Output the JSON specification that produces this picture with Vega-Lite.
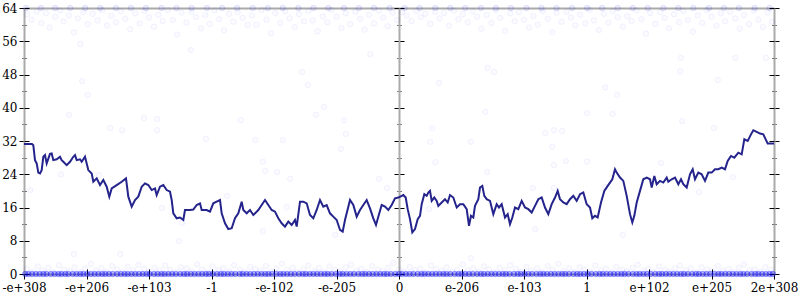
{
  "$schema": "https://vega.github.io/schema/vega-lite/v6.json",
  "width": 750,
  "height": 266,
  "autosize": "none",
  "padding": {"left": 24, "top": 8, "right": 26, "bottom": 26},
  "background": "white",
  "config": {
    "view": {"stroke": null},
    "axis": {"labelFont": "DejaVu Serif, Liberation Serif, serif", "labelFontSize": 12, "labelColor": "#000", "title": null, "grid": false, "labelFlush": false, "labelOverlap": false}
  },
  "datasets": {
    "line": [
      {"x":0,"y":31.3},{"x":0.128,"y":31.3},{"x":0.149,"y":31},{"x":0.176,"y":27.4},{"x":0.203,"y":26.6},{"x":0.229,"y":24.4},{"x":0.256,"y":24.2},{"x":0.283,"y":25},{"x":0.309,"y":28.2},{"x":0.336,"y":28.6},{"x":0.363,"y":26.6},{"x":0.416,"y":28.9},{"x":0.443,"y":29},{"x":0.469,"y":27.4},{"x":0.523,"y":27.6},{"x":0.576,"y":28.2},{"x":0.603,"y":27.4},{"x":0.629,"y":27},{"x":0.683,"y":26.2},{"x":0.736,"y":27},{"x":0.789,"y":28.2},{"x":0.816,"y":28.6},{"x":0.843,"y":27.4},{"x":0.896,"y":27.6},{"x":0.923,"y":27},{"x":0.976,"y":28.2},{"x":1.003,"y":26.6},{"x":1.029,"y":25},{"x":1.083,"y":24.2},{"x":1.109,"y":22.2},{"x":1.163,"y":23},{"x":1.216,"y":21.4},{"x":1.269,"y":22.6},{"x":1.323,"y":21},{"x":1.365,"y":18.6},{"x":1.403,"y":20.6},{"x":1.483,"y":21.4},{"x":1.563,"y":22.2},{"x":1.632,"y":23},{"x":1.669,"y":18.6},{"x":1.723,"y":16.2},{"x":1.776,"y":17.8},{"x":1.829,"y":18.6},{"x":1.883,"y":21},{"x":1.936,"y":21.8},{"x":1.989,"y":21.4},{"x":2.043,"y":20.2},{"x":2.096,"y":20.6},{"x":2.123,"y":19},{"x":2.176,"y":21},{"x":2.229,"y":21.4},{"x":2.283,"y":20.2},{"x":2.336,"y":19.8},{"x":2.363,"y":17.8},{"x":2.389,"y":14.6},{"x":2.443,"y":13.4},{"x":2.496,"y":13.6},{"x":2.549,"y":13},{"x":2.576,"y":15.4},{"x":2.656,"y":15.4},{"x":2.709,"y":15.5},{"x":2.763,"y":16.6},{"x":2.816,"y":17},{"x":2.843,"y":15.4},{"x":2.923,"y":15.4},{"x":2.976,"y":15},{"x":3.029,"y":17},{"x":3.083,"y":17.4},{"x":3.136,"y":17.8},{"x":3.163,"y":14.6},{"x":3.216,"y":12.2},{"x":3.269,"y":10.8},{"x":3.323,"y":11},{"x":3.376,"y":13.4},{"x":3.429,"y":14.6},{"x":3.483,"y":17.4},{"x":3.509,"y":15.4},{"x":3.563,"y":14.6},{"x":3.616,"y":15.4},{"x":3.669,"y":14.2},{"x":3.749,"y":15.4},{"x":3.803,"y":16.6},{"x":3.856,"y":17.8},{"x":3.909,"y":16.6},{"x":3.963,"y":15.4},{"x":4.016,"y":15},{"x":4.069,"y":13.4},{"x":4.123,"y":12.2},{"x":4.176,"y":11.4},{"x":4.229,"y":12.6},{"x":4.283,"y":11.8},{"x":4.336,"y":13},{"x":4.363,"y":11.4},{"x":4.416,"y":17.4},{"x":4.469,"y":17.4},{"x":4.523,"y":17},{"x":4.576,"y":14.2},{"x":4.629,"y":13.4},{"x":4.683,"y":15.4},{"x":4.736,"y":17.8},{"x":4.789,"y":16.2},{"x":4.843,"y":16.6},{"x":4.896,"y":14.6},{"x":4.949,"y":13.8},{"x":5.003,"y":13},{"x":5.056,"y":10.6},{"x":5.099,"y":10.2},{"x":5.136,"y":13},{"x":5.189,"y":16.2},{"x":5.216,"y":17.8},{"x":5.269,"y":16.6},{"x":5.323,"y":13.8},{"x":5.376,"y":15.4},{"x":5.429,"y":16.6},{"x":5.483,"y":17.8},{"x":5.536,"y":15.8},{"x":5.589,"y":13.4},{"x":5.632,"y":11.8},{"x":5.669,"y":13.8},{"x":5.723,"y":16.6},{"x":5.776,"y":16.2},{"x":5.829,"y":15.4},{"x":5.883,"y":16.6},{"x":5.936,"y":18.2},
      {"x":5.989,"y":18.4},{"x":6.069,"y":19},{"x":6.107,"y":18.4},{"x":6.139,"y":15.6},{"x":6.176,"y":13.2},{"x":6.213,"y":10},{"x":6.256,"y":10.8},{"x":6.299,"y":13.2},{"x":6.336,"y":14},{"x":6.363,"y":16.8},{"x":6.405,"y":19.2},{"x":6.443,"y":18.8},{"x":6.469,"y":19.6},{"x":6.496,"y":20},{"x":6.523,"y":17.6},{"x":6.565,"y":18.4},{"x":6.603,"y":17.6},{"x":6.629,"y":16.4},{"x":6.683,"y":17.2},{"x":6.736,"y":18},{"x":6.779,"y":17.2},{"x":6.816,"y":19},{"x":6.869,"y":18.4},{"x":6.923,"y":16},{"x":6.976,"y":16.8},{"x":7.029,"y":16.8},{"x":7.083,"y":15.6},{"x":7.12,"y":11.6},{"x":7.152,"y":14},{"x":7.189,"y":13.6},{"x":7.216,"y":16.4},{"x":7.269,"y":18},{"x":7.296,"y":20.8},{"x":7.333,"y":21.2},{"x":7.365,"y":18.8},{"x":7.403,"y":18},{"x":7.456,"y":17.6},{"x":7.509,"y":14.4},{"x":7.563,"y":16.8},{"x":7.6,"y":16},{"x":7.643,"y":16.8},{"x":7.696,"y":13.6},{"x":7.739,"y":14.4},{"x":7.776,"y":12},{"x":7.813,"y":13.6},{"x":7.856,"y":16},{"x":7.909,"y":15.6},{"x":7.963,"y":17.6},{"x":8.016,"y":16},{"x":8.069,"y":15.6},{"x":8.123,"y":14.8},{"x":8.176,"y":16.4},{"x":8.229,"y":18},{"x":8.283,"y":18.4},{"x":8.336,"y":16},{"x":8.389,"y":14.4},{"x":8.443,"y":16.8},{"x":8.496,"y":18.4},{"x":8.539,"y":20},{"x":8.576,"y":18},{"x":8.629,"y":17.2},{"x":8.683,"y":16.8},{"x":8.736,"y":18},{"x":8.789,"y":18.8},{"x":8.843,"y":17.6},{"x":8.896,"y":19.2},{"x":8.949,"y":19.6},{"x":9.003,"y":16.8},{"x":9.056,"y":16},{"x":9.093,"y":13.4},{"x":9.136,"y":14},{"x":9.179,"y":13.6},{"x":9.232,"y":17.2},{"x":9.285,"y":20},{"x":9.339,"y":21.2},{"x":9.376,"y":22},{"x":9.413,"y":22.8},{"x":9.456,"y":25.2},{"x":9.483,"y":24.4},{"x":9.536,"y":23.2},{"x":9.589,"y":22.4},{"x":9.643,"y":18.8},{"x":9.696,"y":14.4},{"x":9.733,"y":12.4},{"x":9.765,"y":14},{"x":9.803,"y":17.2},{"x":9.856,"y":20},{"x":9.909,"y":22.8},{"x":9.963,"y":23.2},{"x":10.016,"y":22.8},{"x":10.043,"y":20.8},{"x":10.085,"y":23.6},{"x":10.123,"y":21.6},{"x":10.176,"y":22.4},{"x":10.229,"y":22},{"x":10.283,"y":23.2},{"x":10.309,"y":22.2},{"x":10.363,"y":22.8},{"x":10.416,"y":23.2},{"x":10.469,"y":21.6},{"x":10.512,"y":22.8},{"x":10.549,"y":21.6},{"x":10.603,"y":20.8},{"x":10.656,"y":24},{"x":10.699,"y":25.2},{"x":10.736,"y":22.8},{"x":10.789,"y":24.4},{"x":10.843,"y":24},{"x":10.896,"y":22.4},{"x":10.949,"y":24.4},{"x":11.003,"y":24.4},{"x":11.056,"y":25.2},{"x":11.109,"y":25.2},{"x":11.163,"y":25.6},{"x":11.216,"y":25.2},{"x":11.259,"y":27.2},{"x":11.312,"y":28.4},{"x":11.365,"y":28},{"x":11.429,"y":29.2},{"x":11.483,"y":28.8},{"x":11.525,"y":32.4},{"x":11.579,"y":32},{"x":11.632,"y":33.6},{"x":11.669,"y":34.6},{"x":11.723,"y":34.2},{"x":11.776,"y":33.8},{"x":11.829,"y":33.6},{"x":11.867,"y":32.4},{"x":11.899,"y":31.4},{"x":12,"y":31.4}
    ],
    "pts": [
      {"x":0.05,"y":62.5},{"x":0.12,"y":61.2},{"x":0.2,"y":63.1},{"x":0.28,"y":60.4},{"x":0.35,"y":62.8},{"x":0.41,"y":59.3},{"x":0.5,"y":61.9},{"x":0.58,"y":63.4},{"x":0.63,"y":60.8},{"x":0.72,"y":62.2},{"x":0.8,"y":58.1},{"x":0.86,"y":61.5},{"x":0.95,"y":63.0},{"x":1.02,"y":60.1},{"x":1.1,"y":62.6},{"x":1.18,"y":61.0},{"x":1.25,"y":63.5},{"x":1.33,"y":59.8},{"x":1.4,"y":62.1},{"x":1.47,"y":60.6},{"x":1.55,"y":63.2},{"x":1.62,"y":61.4},{"x":1.7,"y":58.9},{"x":1.78,"y":62.7},{"x":1.85,"y":60.3},{"x":1.93,"y":63.3},{"x":2.0,"y":61.7},{"x":2.08,"y":59.5},{"x":2.15,"y":62.4},{"x":2.22,"y":60.9},{"x":2.3,"y":63.6},{"x":2.38,"y":61.1},{"x":2.45,"y":57.6},{"x":2.52,"y":62.9},{"x":2.6,"y":60.5},{"x":2.68,"y":63.1},{"x":2.75,"y":61.8},{"x":2.83,"y":59.1},{"x":2.9,"y":62.3},{"x":2.97,"y":60.2},{"x":3.05,"y":63.4},{"x":3.12,"y":61.3},{"x":3.2,"y":58.6},{"x":3.28,"y":62.6},{"x":3.35,"y":60.7},{"x":3.42,"y":63.0},{"x":3.5,"y":61.6},{"x":3.58,"y":59.9},{"x":3.65,"y":62.2},{"x":3.72,"y":60.0},{"x":3.8,"y":63.5},{"x":3.88,"y":61.2},{"x":3.95,"y":57.9},{"x":4.02,"y":62.8},{"x":4.1,"y":60.4},{"x":4.18,"y":63.2},{"x":4.25,"y":61.5},{"x":4.33,"y":59.4},{"x":4.4,"y":62.5},{"x":4.48,"y":60.8},{"x":4.55,"y":63.3},{"x":4.62,"y":61.0},{"x":4.7,"y":58.4},{"x":4.78,"y":62.0},{"x":4.85,"y":60.6},{"x":4.92,"y":63.6},{"x":5.0,"y":61.9},{"x":5.08,"y":59.2},{"x":5.15,"y":62.7},{"x":5.22,"y":60.1},{"x":5.3,"y":63.1},{"x":5.38,"y":61.4},{"x":5.45,"y":58.8},{"x":5.52,"y":62.4},{"x":5.6,"y":60.3},{"x":5.68,"y":63.4},{"x":5.75,"y":61.7},{"x":5.82,"y":59.6},{"x":5.9,"y":62.9},{"x":5.97,"y":61.1},
      {"x":6.05,"y":63.0},{"x":6.12,"y":62.2},{"x":6.2,"y":60.9},{"x":6.28,"y":63.3},{"x":6.35,"y":61.8},{"x":6.42,"y":62.6},{"x":6.5,"y":60.2},{"x":6.58,"y":63.1},{"x":6.65,"y":61.5},{"x":6.72,"y":62.8},{"x":6.8,"y":59.7},{"x":6.88,"y":63.4},{"x":6.95,"y":61.3},{"x":7.02,"y":62.5},{"x":7.1,"y":60.6},{"x":7.18,"y":63.2},{"x":7.25,"y":61.9},{"x":7.32,"y":59.0},{"x":7.4,"y":62.3},{"x":7.48,"y":60.4},{"x":7.55,"y":63.5},{"x":7.62,"y":61.6},{"x":7.7,"y":58.5},{"x":7.78,"y":62.7},{"x":7.85,"y":60.8},{"x":7.92,"y":63.0},{"x":8.0,"y":61.2},{"x":8.08,"y":59.3},{"x":8.15,"y":62.1},{"x":8.22,"y":60.0},{"x":8.3,"y":63.3},{"x":8.38,"y":61.4},{"x":8.45,"y":58.2},{"x":8.52,"y":62.9},{"x":8.6,"y":60.7},{"x":8.68,"y":63.1},{"x":8.75,"y":61.7},{"x":8.82,"y":59.8},{"x":8.9,"y":62.4},{"x":8.98,"y":60.3},{"x":9.05,"y":63.6},{"x":9.12,"y":61.0},{"x":9.2,"y":58.7},{"x":9.28,"y":62.6},{"x":9.35,"y":60.5},{"x":9.42,"y":63.2},{"x":9.5,"y":61.8},{"x":9.58,"y":59.5},{"x":9.65,"y":62.0},{"x":9.72,"y":60.9},{"x":9.8,"y":63.4},{"x":9.88,"y":61.3},{"x":9.95,"y":57.8},{"x":10.02,"y":62.8},{"x":10.1,"y":60.2},{"x":10.18,"y":63.0},{"x":10.25,"y":61.6},{"x":10.32,"y":59.1},{"x":10.4,"y":62.5},{"x":10.48,"y":60.6},{"x":10.55,"y":63.3},{"x":10.62,"y":61.1},{"x":10.7,"y":58.3},{"x":10.78,"y":62.2},{"x":10.85,"y":60.4},{"x":10.92,"y":63.5},{"x":11.0,"y":61.9},{"x":11.08,"y":59.7},{"x":11.15,"y":62.7},{"x":11.22,"y":60.8},{"x":11.3,"y":63.1},{"x":11.38,"y":61.5},{"x":11.45,"y":59.0},{"x":11.52,"y":62.3},{"x":11.6,"y":60.1},{"x":11.68,"y":63.4},{"x":11.75,"y":61.2},{"x":11.82,"y":59.4},{"x":11.9,"y":62.9},{"x":11.97,"y":60.7},
      {"x":0.04,"y":1.2},{"x":0.13,"y":0.6},{"x":0.22,"y":1.8},{"x":0.3,"y":0.9},{"x":0.39,"y":1.5},{"x":0.47,"y":0.4},{"x":0.56,"y":2.1},{"x":0.64,"y":1.0},{"x":0.73,"y":0.7},{"x":0.81,"y":1.6},{"x":0.9,"y":0.5},{"x":0.98,"y":1.3},{"x":1.07,"y":2.4},{"x":1.15,"y":0.8},{"x":1.24,"y":1.4},{"x":1.32,"y":0.6},{"x":1.41,"y":1.9},{"x":1.49,"y":1.1},{"x":1.58,"y":0.4},{"x":1.66,"y":1.7},{"x":1.75,"y":0.9},{"x":1.83,"y":2.2},{"x":1.92,"y":1.2},{"x":2.0,"y":0.6},{"x":2.09,"y":1.5},{"x":2.17,"y":0.8},{"x":2.26,"y":2.0},{"x":2.34,"y":1.0},{"x":2.43,"y":0.5},{"x":2.51,"y":1.6},{"x":2.6,"y":1.3},{"x":2.68,"y":0.7},{"x":2.77,"y":2.3},{"x":2.85,"y":1.1},{"x":2.94,"y":0.4},{"x":3.02,"y":1.8},{"x":3.11,"y":0.9},{"x":3.19,"y":1.4},{"x":3.28,"y":0.6},{"x":3.36,"y":2.1},{"x":3.45,"y":1.0},{"x":3.53,"y":0.5},{"x":3.62,"y":1.7},{"x":3.7,"y":1.2},{"x":3.79,"y":0.8},{"x":3.87,"y":1.9},{"x":3.96,"y":0.6},{"x":4.04,"y":1.3},{"x":4.13,"y":2.5},{"x":4.21,"y":0.9},{"x":4.3,"y":1.5},{"x":4.38,"y":0.4},{"x":4.47,"y":1.1},{"x":4.55,"y":2.0},{"x":4.64,"y":0.7},{"x":4.72,"y":1.4},{"x":4.81,"y":0.5},{"x":4.89,"y":1.8},{"x":4.98,"y":1.0},{"x":5.06,"y":0.6},{"x":5.15,"y":1.6},{"x":5.23,"y":2.2},{"x":5.32,"y":0.8},{"x":5.4,"y":1.2},{"x":5.49,"y":0.5},{"x":5.57,"y":1.9},{"x":5.66,"y":1.0},{"x":5.74,"y":0.7},{"x":5.83,"y":1.5},{"x":5.91,"y":2.6},{"x":6.0,"y":1.1},{"x":6.08,"y":0.6},{"x":6.17,"y":1.7},{"x":6.25,"y":0.9},{"x":6.34,"y":1.3},{"x":6.42,"y":0.4},{"x":6.51,"y":2.0},{"x":6.59,"y":1.2},{"x":6.68,"y":0.7},{"x":6.76,"y":1.6},{"x":6.85,"y":0.5},{"x":6.93,"y":1.0},{"x":7.02,"y":2.3},{"x":7.1,"y":0.8},{"x":7.19,"y":1.4},{"x":7.27,"y":0.6},{"x":7.36,"y":1.8},{"x":7.44,"y":1.1},{"x":7.53,"y":0.4},{"x":7.61,"y":1.5},{"x":7.7,"y":0.9},{"x":7.78,"y":2.1},{"x":7.87,"y":1.2},{"x":7.95,"y":0.6},{"x":8.04,"y":1.7},{"x":8.12,"y":0.8},{"x":8.21,"y":1.3},{"x":8.29,"y":0.5},{"x":8.38,"y":1.9},{"x":8.46,"y":1.0},{"x":8.55,"y":2.4},{"x":8.63,"y":0.7},{"x":8.72,"y":1.4},{"x":8.8,"y":0.5},{"x":8.89,"y":1.6},{"x":8.97,"y":1.1},{"x":9.06,"y":0.6},{"x":9.14,"y":2.0},{"x":9.23,"y":0.9},{"x":9.31,"y":1.3},{"x":9.4,"y":0.4},{"x":9.48,"y":1.7},{"x":9.57,"y":1.0},{"x":9.65,"y":0.7},{"x":9.74,"y":1.5},{"x":9.82,"y":2.2},{"x":9.91,"y":0.8},{"x":9.99,"y":1.2},{"x":10.08,"y":0.5},{"x":10.16,"y":1.8},{"x":10.25,"y":1.0},{"x":10.33,"y":0.6},{"x":10.42,"y":1.4},{"x":10.5,"y":2.0},{"x":10.59,"y":0.9},{"x":10.67,"y":1.3},{"x":10.76,"y":0.4},{"x":10.84,"y":1.6},{"x":10.93,"y":1.1},{"x":11.01,"y":0.7},{"x":11.1,"y":1.9},{"x":11.18,"y":0.8},{"x":11.27,"y":1.2},{"x":11.35,"y":0.5},{"x":11.44,"y":1.5},{"x":11.52,"y":2.3},{"x":11.61,"y":0.9},{"x":11.69,"y":1.1},{"x":11.78,"y":0.6},{"x":11.86,"y":1.7},{"x":11.95,"y":1.0},
      {"x":0.93,"y":46.4},{"x":1.02,"y":43.1},{"x":0.9,"y":55.3},{"x":2.67,"y":53.9},{"x":0.72,"y":38.3},{"x":1.38,"y":35.1},{"x":1.92,"y":37.5},{"x":2.13,"y":37.3},{"x":2.13,"y":34.6},{"x":0.59,"y":24.0},{"x":1.2,"y":23.8},{"x":0.1,"y":20.2},{"x":2.21,"y":15.9},{"x":0.8,"y":4.8},{"x":1.54,"y":4.8},{"x":2.48,"y":7.9},{"x":2.53,"y":12.3},{"x":2.91,"y":32.5},{"x":3.47,"y":37.0},{"x":3.7,"y":32.2},{"x":4.14,"y":32.2},{"x":3.82,"y":27.0},{"x":3.86,"y":24.8},{"x":4.05,"y":24.5},{"x":4.26,"y":22.9},{"x":4.67,"y":38.3},{"x":4.8,"y":40.2},{"x":5.12,"y":37.0},{"x":5.15,"y":33.7},{"x":5.07,"y":30.1},{"x":5.68,"y":22.9},{"x":5.81,"y":20.7},{"x":7.38,"y":39.0},{"x":6.53,"y":35.1},{"x":6.5,"y":31.8},{"x":7.15,"y":31.8},{"x":6.58,"y":26.9},{"x":7.41,"y":24.5},{"x":8.48,"y":34.6},{"x":8.61,"y":34.4},{"x":8.34,"y":33.9},{"x":8.45,"y":30.6},{"x":9.01,"y":38.7},{"x":9.01,"y":27.0},{"x":8.48,"y":26.2},{"x":8.14,"y":20.7},{"x":8.48,"y":20.7},{"x":8.67,"y":27.2},{"x":9.42,"y":38.5},{"x":10.53,"y":36.8},{"x":11.04,"y":35.1},{"x":10.19,"y":26.7},{"x":11.34,"y":23.3},{"x":10.8,"y":19.7},{"x":9.3,"y":20.9},{"x":10.51,"y":52.0},{"x":11.38,"y":52.0},{"x":11.87,"y":52.0},{"x":10.5,"y":48.8},{"x":11.1,"y":46.7},{"x":9.3,"y":44.9},{"x":9.49,"y":43.1},{"x":4.45,"y":48.6},{"x":4.54,"y":45.5},{"x":5.54,"y":52.9},{"x":6.64,"y":46.0},{"x":7.42,"y":49.6},{"x":7.52,"y":48.6},{"x":3.25,"y":18.8},{"x":4.2,"y":16.1},{"x":3.82,"y":10.3},{"x":4.98,"y":9.4},{"x":7.15,"y":3.8},{"x":9.58,"y":9.4},{"x":6.48,"y":15.6},{"x":8.18,"y":10.8},{"x":1.57,"y":34.6}
    ],
    "e0": [
      {"x":0.02,"y":0},{"x":0.13,"y":0},{"x":0.25,"y":0},{"x":0.36,"y":0},{"x":0.49,"y":0},{"x":0.6,"y":0},{"x":0.71,"y":0},{"x":0.84,"y":0},{"x":0.95,"y":0},{"x":1.07,"y":0},{"x":1.19,"y":0},{"x":1.3,"y":0},{"x":1.42,"y":0},{"x":1.55,"y":0},{"x":1.66,"y":0},{"x":1.78,"y":0},{"x":1.9,"y":0},{"x":2.01,"y":0},{"x":2.14,"y":0},{"x":2.25,"y":0},{"x":2.37,"y":0},{"x":2.5,"y":0},{"x":2.61,"y":0},{"x":2.73,"y":0},{"x":2.85,"y":0},{"x":2.96,"y":0},{"x":3.09,"y":0},{"x":3.2,"y":0},{"x":3.32,"y":0},{"x":3.45,"y":0},{"x":3.56,"y":0},{"x":3.68,"y":0},{"x":3.8,"y":0},{"x":3.91,"y":0},{"x":4.04,"y":0},{"x":4.15,"y":0},{"x":4.27,"y":0},{"x":4.4,"y":0},{"x":4.51,"y":0},{"x":4.63,"y":0},{"x":4.75,"y":0},{"x":4.86,"y":0},{"x":4.99,"y":0},{"x":5.1,"y":0},{"x":5.22,"y":0},{"x":5.35,"y":0},{"x":5.46,"y":0},{"x":5.58,"y":0},{"x":5.7,"y":0},{"x":5.81,"y":0},{"x":5.94,"y":0},{"x":6.05,"y":0},{"x":6.17,"y":0},{"x":6.3,"y":0},{"x":6.41,"y":0},{"x":6.53,"y":0},{"x":6.65,"y":0},{"x":6.76,"y":0},{"x":6.89,"y":0},{"x":7.0,"y":0},{"x":7.12,"y":0},{"x":7.25,"y":0},{"x":7.36,"y":0},{"x":7.48,"y":0},{"x":7.6,"y":0},{"x":7.71,"y":0},{"x":7.84,"y":0},{"x":7.95,"y":0},{"x":8.07,"y":0},{"x":8.2,"y":0},{"x":8.31,"y":0},{"x":8.43,"y":0},{"x":8.55,"y":0},{"x":8.66,"y":0},{"x":8.79,"y":0},{"x":8.9,"y":0},{"x":9.02,"y":0},{"x":9.15,"y":0},{"x":9.26,"y":0},{"x":9.38,"y":0},{"x":9.5,"y":0},{"x":9.61,"y":0},{"x":9.74,"y":0},{"x":9.85,"y":0},{"x":9.97,"y":0},{"x":10.1,"y":0},{"x":10.21,"y":0},{"x":10.33,"y":0},{"x":10.45,"y":0},{"x":10.56,"y":0},{"x":10.69,"y":0},{"x":10.8,"y":0},{"x":10.92,"y":0},{"x":11.05,"y":0},{"x":11.16,"y":0},{"x":11.28,"y":0},{"x":11.4,"y":0},{"x":11.51,"y":0},{"x":11.64,"y":0},{"x":11.75,"y":0},{"x":11.87,"y":0},{"x":11.98,"y":0},
      {"x":0.07,"y":0},{"x":0.19,"y":0},{"x":0.31,"y":0},{"x":0.43,"y":0},{"x":0.55,"y":0},{"x":0.66,"y":0},{"x":0.78,"y":0},{"x":0.9,"y":0},{"x":1.01,"y":0},{"x":1.13,"y":0},{"x":1.25,"y":0},{"x":1.36,"y":0},{"x":1.49,"y":0},{"x":1.61,"y":0},{"x":1.72,"y":0},{"x":1.84,"y":0},{"x":1.96,"y":0},{"x":2.08,"y":0},{"x":2.2,"y":0},{"x":2.31,"y":0},{"x":2.43,"y":0},{"x":2.56,"y":0},{"x":2.67,"y":0},{"x":2.79,"y":0},{"x":2.91,"y":0},{"x":3.02,"y":0},{"x":3.15,"y":0},{"x":3.26,"y":0},{"x":3.38,"y":0},{"x":3.5,"y":0},{"x":3.62,"y":0},{"x":3.74,"y":0},{"x":3.86,"y":0},{"x":3.97,"y":0},{"x":4.1,"y":0},{"x":4.21,"y":0},{"x":4.33,"y":0},{"x":4.46,"y":0},{"x":4.57,"y":0},{"x":4.69,"y":0},{"x":4.81,"y":0},{"x":4.92,"y":0},{"x":5.05,"y":0},{"x":5.16,"y":0},{"x":5.28,"y":0},{"x":5.41,"y":0},{"x":5.52,"y":0},{"x":5.64,"y":0},{"x":5.76,"y":0},{"x":5.87,"y":0},{"x":6.0,"y":0},{"x":6.11,"y":0},{"x":6.23,"y":0},{"x":6.36,"y":0},{"x":6.47,"y":0},{"x":6.59,"y":0},{"x":6.71,"y":0},{"x":6.82,"y":0},{"x":6.95,"y":0},{"x":7.06,"y":0},{"x":7.18,"y":0},{"x":7.31,"y":0},{"x":7.42,"y":0},{"x":7.54,"y":0},{"x":7.66,"y":0},{"x":7.77,"y":0},{"x":7.9,"y":0},{"x":8.01,"y":0},{"x":8.13,"y":0},{"x":8.26,"y":0},{"x":8.37,"y":0},{"x":8.49,"y":0},{"x":8.61,"y":0},{"x":8.72,"y":0},{"x":8.85,"y":0},{"x":8.96,"y":0},{"x":9.08,"y":0},{"x":9.21,"y":0},{"x":9.32,"y":0},{"x":9.44,"y":0},{"x":9.56,"y":0},{"x":9.67,"y":0},{"x":9.8,"y":0},{"x":9.91,"y":0},{"x":10.03,"y":0},{"x":10.16,"y":0},{"x":10.27,"y":0},{"x":10.39,"y":0},{"x":10.51,"y":0},{"x":10.62,"y":0},{"x":10.75,"y":0},{"x":10.86,"y":0},{"x":10.98,"y":0},{"x":11.11,"y":0},{"x":11.22,"y":0},{"x":11.34,"y":0},{"x":11.46,"y":0},{"x":11.57,"y":0},{"x":11.7,"y":0},{"x":11.81,"y":0},{"x":11.93,"y":0}
    ],
    "e64": [
      {"x":0.03,"y":64},{"x":0.27,"y":64},{"x":0.5,"y":64},{"x":0.74,"y":64},{"x":0.98,"y":64},{"x":1.22,"y":64},{"x":1.47,"y":64},{"x":1.71,"y":64},{"x":1.95,"y":64},{"x":2.2,"y":64},{"x":2.44,"y":64},{"x":2.68,"y":64},{"x":2.93,"y":64},{"x":3.17,"y":64},{"x":3.41,"y":64},{"x":3.66,"y":64},{"x":3.9,"y":64},{"x":4.14,"y":64},{"x":4.39,"y":64},{"x":4.63,"y":64},{"x":4.87,"y":64},{"x":5.12,"y":64},{"x":5.36,"y":64},{"x":5.6,"y":64},{"x":5.85,"y":64},{"x":6.09,"y":64},{"x":6.33,"y":64},{"x":6.58,"y":64},{"x":6.82,"y":64},{"x":7.06,"y":64},{"x":7.31,"y":64},{"x":7.55,"y":64},{"x":7.79,"y":64},{"x":8.04,"y":64},{"x":8.28,"y":64},{"x":8.52,"y":64},{"x":8.77,"y":64},{"x":9.01,"y":64},{"x":9.25,"y":64},{"x":9.5,"y":64},{"x":9.74,"y":64},{"x":9.98,"y":64},{"x":10.23,"y":64},{"x":10.47,"y":64},{"x":10.71,"y":64},{"x":10.96,"y":64},{"x":11.2,"y":64},{"x":11.44,"y":64},{"x":11.69,"y":64},{"x":11.93,"y":64}
    ]
  },
  "resolve": {"axis": {"x": "independent", "y": "independent"}},
  "layer": [
    {
      "data": {"name": "pts"},
      "mark": {"type": "point", "shape": "circle", "size": 30, "filled": true, "fill": "#0000ff", "fillOpacity": 0.02, "stroke": "#0000ff", "strokeOpacity": 0.05, "strokeWidth": 1},
      "encoding": {
        "x": {"field": "x", "type": "quantitative", "scale": {"domain": [0, 12], "nice": false, "zero": false},
          "axis": {"orient": "bottom", "values": [0,1,2,3,4,5,6,7,8,9,10,11,12], "labelExpr": "['-e+308','-e+206','-e+103','-1','-e-102','-e-205','0','e-206','e-103','1','e+102','e+205','2e+308'][datum.value]", "labelFont": "DejaVu Serif, Liberation Serif, serif", "labelFontSize": 12, "tickSize": 5, "tickColor": "#000", "tickWidth": 1, "domainColor": "#aaaaaa", "domainWidth": 2, "labelPadding": 3}},
        "y": {"field": "y", "type": "quantitative", "scale": {"domain": [0, 64], "nice": false},
          "axis": {"orient": "left", "values": [0,4,8,12,16,20,24,28,32,36,40,44,48,52,56,60,64], "labelExpr": "datum.value % 8 === 0 ? datum.label : ''", "labelFont": "DejaVu Serif, Liberation Serif, serif", "labelFontSize": 12, "tickSize": {"condition": {"test": "datum.value % 8 === 0", "value": 5}, "value": 2.5}, "tickColor": {"condition": {"test": "datum.value % 8 === 0", "value": "#000"}, "value": "#777"}, "tickWidth": 1, "domainColor": "#aaaaaa", "domainWidth": 2, "labelPadding": 2}}
      }
    },
    {
      "data": {"name": "e0"},
      "mark": {"type": "point", "shape": "circle", "size": 30, "filled": true, "fill": "#0000ff", "fillOpacity": 0.3, "stroke": "#0000ff", "strokeOpacity": 0.3, "strokeWidth": 1},
      "encoding": {
        "x": {"field": "x", "type": "quantitative", "scale": {"domain": [0, 12], "nice": false, "zero": false},
          "axis": {"orient": "top", "offset": -266, "values": [0,1,2,3,4,5,6,7,8,9,10,11,12], "labels": false, "domain": false, "tickSize": 5, "tickColor": "#000", "tickWidth": 1}},
        "y": {"field": "y", "type": "quantitative", "scale": {"domain": [0, 64], "nice": false},
          "axis": {"orient": "right", "offset": -750, "values": [0,4,8,12,16,20,24,28,32,36,40,44,48,52,56,60,64], "labels": false, "domain": false, "tickSize": {"condition": {"test": "datum.value % 8 === 0", "value": 5}, "value": 2.5}, "tickColor": {"condition": {"test": "datum.value % 8 === 0", "value": "#000"}, "value": "#777"}, "tickWidth": 1}}
      }
    },
    {
      "data": {"name": "e64"},
      "mark": {"type": "point", "shape": "circle", "size": 30, "filled": true, "fill": "#0000ff", "fillOpacity": 0.06, "stroke": "#0000ff", "strokeOpacity": 0.1, "strokeWidth": 1},
      "encoding": {
        "x": {"field": "x", "type": "quantitative", "scale": {"domain": [0, 12], "nice": false, "zero": false},
          "axis": {"orient": "top", "ticks": false, "labels": false, "domainColor": "#aaaaaa", "domainWidth": 2}},
        "y": {"field": "y", "type": "quantitative", "scale": {"domain": [0, 64], "nice": false},
          "axis": {"orient": "right", "offset": -375, "values": [0,4,8,12,16,20,24,28,32,36,40,44,48,52,56,60,64], "labels": false, "domain": false, "tickSize": {"condition": {"test": "datum.value % 8 === 0", "value": 5}, "value": 2.5}, "tickColor": {"condition": {"test": "datum.value % 8 === 0", "value": "#000"}, "value": "#777"}, "tickWidth": 1}}
      }
    },
    {
      "data": {"name": "line"},
      "mark": {"type": "line", "color": "#24248c", "strokeWidth": 2},
      "encoding": {
        "x": {"field": "x", "type": "quantitative", "scale": {"domain": [0, 12], "nice": false, "zero": false}, "axis": null},
        "y": {"field": "y", "type": "quantitative", "scale": {"domain": [0, 64], "nice": false},
          "axis": {"orient": "left", "offset": -375, "values": [0,4,8,12,16,20,24,28,32,36,40,44,48,52,56,60,64], "labels": false, "domainColor": "#aaaaaa", "domainWidth": 2, "tickSize": {"condition": {"test": "datum.value % 8 === 0", "value": 5}, "value": 2.5}, "tickColor": {"condition": {"test": "datum.value % 8 === 0", "value": "#000"}, "value": "#777"}, "tickWidth": 1}}
      }
    },
    {
      "data": {"name": "line"},
      "mark": {"type": "line", "opacity": 0},
      "encoding": {
        "x": {"field": "x", "type": "quantitative", "scale": {"domain": [0, 12], "nice": false, "zero": false}, "axis": null},
        "y": {"field": "y", "type": "quantitative", "scale": {"domain": [0, 64], "nice": false},
          "axis": {"orient": "right", "values": [0,4,8,12,16,20,24,28,32,36,40,44,48,52,56,60,64], "labels": false, "domainColor": "#aaaaaa", "domainWidth": 2, "tickSize": {"condition": {"test": "datum.value % 8 === 0", "value": 5}, "value": 2.5}, "tickColor": {"condition": {"test": "datum.value % 8 === 0", "value": "#000"}, "value": "#777"}, "tickWidth": 1}}
      }
    },
    {
      "data": {"name": "line"},
      "mark": {"type": "line", "opacity": 0},
      "encoding": {
        "x": {"field": "x", "type": "quantitative", "scale": {"domain": [0, 12], "nice": false, "zero": false}, "axis": null},
        "y": {"field": "y", "type": "quantitative", "scale": {"domain": [0, 64], "nice": false},
          "axis": {"orient": "left", "offset": -750, "values": [0,4,8,12,16,20,24,28,32,36,40,44,48,52,56,60,64], "labels": false, "domain": false, "tickSize": {"condition": {"test": "datum.value % 8 === 0", "value": 5}, "value": 2.5}, "tickColor": {"condition": {"test": "datum.value % 8 === 0", "value": "#000"}, "value": "#777"}, "tickWidth": 1}}
      }
    }
  ]
}
